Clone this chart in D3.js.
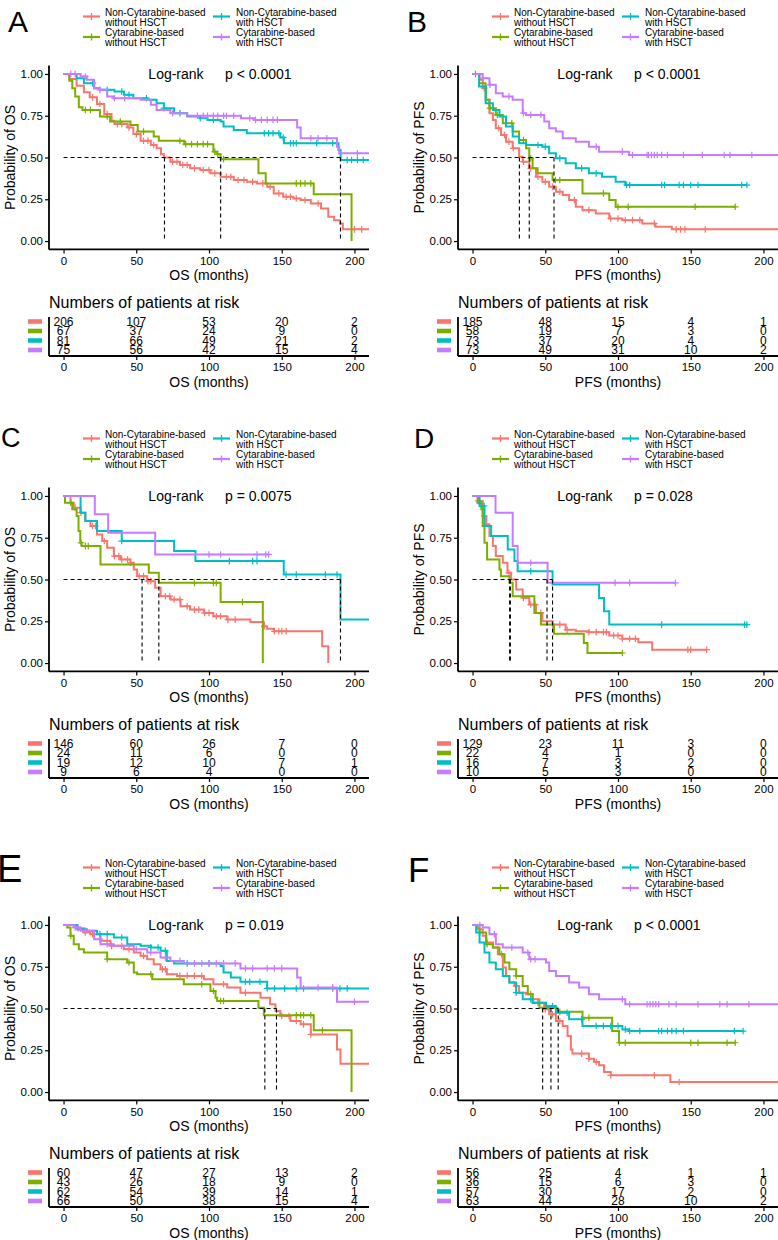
<!DOCTYPE html>
<html><head><meta charset="utf-8">
<script src="https://cdn.jsdelivr.net/npm/d3@7"></script>
<style>body{margin:0;background:#fff} svg{display:block;font-family:"Liberation Sans",Arial,Helvetica,sans-serif}</style>
</head><body><svg id="c" width="778" height="1240"></svg>
<script>
// ---------- shared labels ----------
const legendLines = [["Non-Cytarabine-based","without HSCT"],["Cytarabine-based","without HSCT"],["Non-Cytarabine-based","with HSCT"],["Cytarabine-based","with HSCT"]];
const colors = ["#F8766D","#7CAE00","#00BFC4","#C77CFF"];
const xTicks = [0,50,100,150,200];
const yTicks = [0,0.25,0.5,0.75,1];
const yTickLabels = ["0.00","0.25","0.50","0.75","1.00"];
const panelLetters = ["A","B","C","D","E","F"];
const endpoints = ["OS","PFS","OS","PFS","OS","PFS"];
const pValues = ["p < 0.0001","p < 0.0001","p = 0.0075","p = 0.028","p = 0.019","p < 0.0001"];

// ---------- Panel A (OS) ----------
const stepsA = [
 [[0,1],[4,.97],[9,.93],[14,.89],[18,.86],[23,.82],[28,.76],[33,.72],[35,.70],[44,.68],[48,.64],[53,.60],[60,.575],[64,.555],[67,.52],[69,.50],[73.5,.475],[80,.455],[87,.435],[94,.425],[101,.405],[108,.385],[117,.365],[126,.355],[133,.345],[140,.325],[144.5,.285],[151,.265],[158,.255],[163,.245],[170,.225],[177,.195],[182,.145],[186,.125],[190,.105],[192,.07]],
 [[0,1],[4,.96],[6,.915],[8,.865],[10.5,.80],[13,.785],[25,.745],[32,.715],[46,.695],[51,.655],[62,.625],[65.5,.60],[83,.58],[103,.535],[105.6,.52],[108,.49],[134,.405],[139,.345],[172,.28],[198,0]],
 [[0,1],[9,.975],[14,.945],[21,.915],[25,.905],[35,.895],[41.5,.875],[48,.855],[57.5,.845],[64,.825],[69,.795],[76,.765],[85,.745],[94,.735],[99,.725],[108,.715],[110,.685],[117,.665],[126,.645],[149,.62],[151.5,.585],[189,.545],[190.5,.485]],
 [[0,1],[11.7,.985],[16,.965],[21,.915],[25,.905],[30,.865],[34.6,.855],[53,.845],[60,.815],[64,.785],[73.5,.765],[85,.75],[122,.735],[131,.725],[160.6,.68],[163,.615],[188,.565],[189.5,.525]]
];
const endA = [210,198,210,210];
const censorA = [
 [20,25,30,37,40,45,50,55,58,62,75,78,82,85,90,96,100,104,112,115,120,124,130,137,142,148,153,156,160,166,175,200,205],
 [15,18.5,30,39,55,80,84,88,92,96,99,104,106,110,160,163,166,170],
 [20,30,40,45,57,69,80,94,103,138,141,144,148,151,156,158,160,174,185,195,198,202,206],
 [5,8,15,25,35,42,75,92,96,99,103,106,110,112,117,128,132,136,140,144,147,170,175,181,202]
];
const riskA = [[206,107,53,20,2],[67,37,24,9,0],[81,66,49,21,2],[75,56,42,15,4]];
const mediansA = [69.4,108,190.4];

// ---------- Panel B (PFS) ----------
const stepsB = [
 [[0,1],[4.8,.965],[7,.915],[9.4,.845],[11.6,.765],[14,.725],[16,.675],[19.6,.635],[23,.595],[27.6,.555],[32,.505],[34.5,.475],[39,.435],[43.6,.385],[48,.355],[52.7,.325],[57.3,.295],[62,.275],[66.4,.245],[71,.205],[75.6,.185],[84.7,.165],[94,.135],[103,.125],[116.7,.105],[125.8,.085],[137,.07]],
 [[0,1],[4.5,.945],[9,.845],[11.6,.795],[16,.755],[20.8,.705],[27.6,.655],[32,.605],[36.8,.555],[39,.495],[41.3,.435],[44.7,.405],[55,.365],[75.6,.285],[94,.245],[98.4,.205]],
 [[0,1],[4.5,.925],[9,.825],[14,.785],[18.5,.745],[23,.685],[27.6,.625],[32,.585],[36.8,.575],[48,.565],[52.7,.525],[57.3,.495],[64,.465],[71,.435],[80,.405],[89,.385],[98.4,.355],[105,.335]],
 [[0,1],[7,.975],[11.6,.935],[16,.885],[20.8,.865],[27.6,.845],[34.5,.765],[36.8,.755],[49.3,.715],[52.7,.675],[57.3,.655],[62,.615],[71,.595],[80,.565],[87,.535],[107.5,.515]]
];
const endB = [210,180.6,188.6,210];
const censorB = [
 [8,18,22,25,28,35,40,45,50,55,60,70,80,95,100,105,110,115,125,140,143,146,160],
 [2,12,17,27,35,40,57,60,90,100,107,153,180.6],
 [45,50,60,75,85,106,108,130,132,142,145,150,155,185,188.6],
 [7,12,25,35,40,47,85,103,110,120,121,123,125,127,130,134,145,158,173,177,192]
];
const riskB = [[185,48,15,4,1],[58,19,7,3,0],[73,37,20,4,0],[73,49,31,10,2]];
const mediansB = [32.2,39,56];

// ---------- Panel C (OS) ----------
const stepsC = [
 [[0,1],[4.8,.96],[7,.93],[11.7,.90],[15,.85],[18.5,.82],[23,.77],[26.6,.73],[30,.69],[34.6,.64],[39,.62],[46,.60],[48.3,.56],[50.6,.52],[57.5,.49],[63,.45],[66.7,.40],[73.5,.38],[80.4,.34],[87,.32],[96.5,.30],[103,.28],[112.5,.26],[128.5,.245],[137.7,.22],[140,.205],[144.5,.19],[177.8,.10],[182,0]],
 [[0,1],[1,.96],[6,.92],[9,.88],[10.3,.79],[11.5,.72],[12.5,.70],[25.4,.59],[58.6,.54],[65.5,.48],[108,.365],[137,0]],
 [[0,1],[11.7,.90],[15,.85],[23,.79],[40,.73],[76,.67],[90.7,.61],[151.4,.53],[190.4,.26]],
 [[0,1],[21.5,.89],[30.7,.78],[63,.65]]
];
const endC = [182,137,210,141];
const censorC = [
 [8,12,20,22,28,35,38,40,44,46,52,55,58,60,70,73,76,80,85,90,93,97,100,105,108,113,118,138,145,148,150,153],
 [5,12,15,17,90,103,105,123],
 [40,114,130,133,153,160,180,188],
 [100,108,133,139,141]
];
const riskC = [[146,60,26,7,0],[24,11,6,0,0],[19,12,10,7,1],[9,6,4,0,0]];
const mediansC = [54,65.5,190.4];

// ---------- Panel D (PFS) ----------
const stepsD = [
 [[0,1],[3.7,.97],[7,.88],[9.4,.83],[11.6,.76],[14,.70],[16,.64],[20.8,.60],[24,.54],[26.5,.50],[30,.44],[34.5,.39],[39,.35],[43.6,.30],[48,.25],[55,.23],[64,.20],[71,.19],[80,.185],[94,.165],[103,.145],[114,.125],[123.5,.08]],
 [[0,1],[3.5,.96],[6,.92],[7,.82],[8.2,.72],[10,.62],[18.5,.56],[19.5,.52],[25.3,.48],[27.6,.40],[42.5,.30],[47,.23],[56,.175],[76.5,.12],[79,.06]],
 [[0,1],[4.8,.94],[8.2,.82],[12.8,.76],[24.2,.68],[28.8,.61],[31,.55],[55,.47],[87,.39],[90.4,.31],[94,.23]],
 [[0,1],[15.8,.90],[27.6,.70],[31,.60],[51.6,.48]]
];
const endD = [161,103,188.6,139.5];
const censorD = [
 [4,8,25,35,40,43,47,55,60,65,80,85,90,92,97,100,103,108,112,148,150,161],
 [5,103],
 [8,40,130,187,188.6],
 [40,98,108,139.5]
];
const riskD = [[129,23,11,3,0],[22,4,1,0,0],[16,7,3,2,0],[10,5,3,0,0]];
const mediansD = [25.5,26,51.2,55];

// ---------- Panel E (OS) ----------
const stepsE = [
 [[0,1],[9.4,.98],[14,.955],[18.5,.945],[25.4,.905],[32.3,.875],[41.5,.855],[48.3,.835],[53,.815],[57.5,.795],[62,.765],[66.7,.735],[71,.705],[78,.695],[96.5,.675],[103,.645],[112.5,.625],[121.6,.595],[135.4,.565],[142,.525],[145.7,.485],[149,.455],[156,.425],[163,.405],[170,.345],[188,.255],[190.4,.17]],
 [[0,1],[2.5,.985],[4.8,.935],[7,.885],[10.5,.855],[14,.835],[30,.795],[43.8,.775],[48.3,.715],[50.6,.705],[61,.675],[82.7,.645],[101,.605],[104.5,.565],[105.6,.545],[134,.505],[137.7,.46],[172,.37],[198,0]],
 [[0,1],[9.4,.975],[16,.965],[23,.945],[34.6,.925],[43.8,.885],[53,.875],[60,.865],[66.7,.845],[71,.785],[76,.77],[108,.755],[110,.715],[115,.685],[121.6,.66],[140,.62]],
 [[0,1],[7,.985],[11.7,.965],[21,.915],[25.4,.885],[34.6,.875],[48.3,.855],[57.5,.835],[66.7,.805],[73.5,.785],[82.7,.77],[121.6,.74],[160.6,.685],[163,.625],[188,.54]]
];
const endE = [210,198,210,210];
const censorE = [
 [10,15,20,30,33,45,55,68,70,80,85,90,95,110,125,150,155,160,165,170],
 [5,30,45,60,95,103,108,110,160,163,165,170,178],
 [25,30,40,60,65,70,85,100,125,128,135,140,145,152,160,165,185,190,195],
 [8,10,15,25,30,40,50,60,70,80,90,95,100,105,110,118,125,130,140,145,150,175,185,200]
];
const riskE = [[60,47,27,13,2],[43,26,18,9,0],[62,54,39,14,1],[66,50,38,15,4]];
const mediansE = [138.4,146.4];

// ---------- Panel F (PFS) ----------
const stepsF = [
 [[0,1],[3.5,.975],[7,.935],[9.4,.895],[14,.865],[17.4,.825],[20.8,.745],[23,.695],[25.3,.655],[28.8,.635],[32,.595],[36.8,.585],[41.3,.555],[46,.535],[49.3,.495],[52.7,.465],[57.3,.425],[62,.395],[65.3,.335],[67.6,.255],[68.7,.23],[80,.20],[83.5,.18],[87,.16],[90.4,.12],[95,.10],[136,.06]],
 [[0,1],[4.8,.955],[9.4,.885],[14,.865],[18.5,.825],[22,.775],[25.3,.735],[30,.695],[34.5,.635],[38,.585],[41.3,.535],[46,.505],[58.4,.48],[75.6,.445],[96,.365],[100.7,.295]],
 [[0,1],[2.5,.955],[4.8,.895],[8.2,.835],[11.6,.775],[16,.735],[20.8,.695],[25.3,.655],[30,.595],[34.5,.555],[41.3,.535],[50.5,.515],[57.3,.475],[66.4,.435],[75.6,.395],[103,.375],[107.5,.365]],
 [[0,1],[7,.985],[11.6,.945],[16,.885],[20.8,.865],[34.5,.835],[39,.795],[50.5,.775],[52.7,.725],[57.3,.695],[66.4,.655],[73.3,.625],[80,.585],[87,.555],[105,.525]]
];
const endF = [210,180.6,186,210];
const censorF = [
 [10,20,30,40,50,55,60,75,80,85,95,125,142],
 [5,10,30,45,60,80,101,105,150,155,175,180.6],
 [30,40,55,65,75,85,90,95,100,105,108,115,128,130,134,137,140,145,180,186],
 [5,15,27,38,40,43,103,108,120,122,124,126,128,135,140,155,170,175,190]
];
const riskF = [[56,25,4,1,1],[36,15,6,3,0],[57,30,17,2,0],[63,44,28,10,2]];
const mediansF = [48.2,53.9,58.9];

// letter placement [x, baseline, size]
const letterPos = [[8,32,30],[407,32,30],[1,447,27],[414,448,28],[-3,882,38],[408,882,35]];

const panels = [
 {steps:stepsA,end:endA,censor:censorA,risk:riskA,med:mediansA},
 {steps:stepsB,end:endB,censor:censorB,risk:riskB,med:mediansB},
 {steps:stepsC,end:endC,censor:censorC,risk:riskC,med:mediansC},
 {steps:stepsD,end:endD,censor:censorD,risk:riskD,med:mediansD},
 {steps:stepsE,end:endE,censor:censorE,risk:riskE,med:mediansE},
 {steps:stepsF,end:endF,censor:censorF,risk:riskF,med:mediansF}
];

const svg = d3.select("#c");
const rowOff = [0,422,851];
const colOff = [0,409];

function survAt(steps,t){let s=steps[0][1];for(const p of steps){if(p[0]<=t)s=p[1];else break;}return s;}

panels.forEach((P,i)=>{
  const cx = colOff[i%2], ry = rowOff[Math.floor(i/2)];
  const g = svg.append("g").attr("transform",`translate(${cx},${ry})`);
  const x = d3.scaleLinear().domain([-10,210]).range([49,369]);
  const y = d3.scaleLinear().domain([-0.05,1.05]).range([249.4,65.6]);

  // letter
  const lp = letterPos[i];
  svg.append("text").attr("x",lp[0]).attr("y",lp[1]).attr("font-size",lp[2]).text(panelLetters[i]);

  // legend
  const legX = [[83,100,105],[213,230,236]];
  const legY = [[12,22,16.5],[32,42,37]];
  legendLines.forEach((L,k)=>{
    const c = Math.floor(k/2), r = k%2;
    const [x0,x1,tx] = legX[c]; const [t1,t2,sy] = legY[r];
    g.append("line").attr("x1",x0).attr("x2",x1).attr("y1",sy).attr("y2",sy).attr("stroke",colors[k]).attr("stroke-width",2.2);
    g.append("line").attr("x1",(x0+x1)/2).attr("x2",(x0+x1)/2).attr("y1",sy-3.5).attr("y2",sy+3.5).attr("stroke",colors[k]).attr("stroke-width",1.3);
    g.append("text").attr("x",tx).attr("y",t1+3.5).attr("font-size",10).text(L[0]);
    g.append("text").attr("x",tx).attr("y",t2+3.5).attr("font-size",10).text(L[1]);
  });

  // axes
  const ax = g.append("g").attr("transform","translate(0,249.4)")
    .call(d3.axisBottom(x).tickValues(xTicks).tickSize(4).tickPadding(3));
  const ay = g.append("g").attr("transform","translate(49,0)")
    .call(d3.axisLeft(y).tickValues(yTicks).tickFormat((d,j)=>yTickLabels[j]).tickSize(4).tickPadding(2));
  [ax,ay].forEach(a=>{
    a.select(".domain").attr("stroke","#000").attr("stroke-width",1.8);
    a.selectAll(".tick line").attr("stroke","#000").attr("stroke-width",1.2);
    a.selectAll("text").attr("font-size",11.5).attr("fill","#000").attr("font-family","inherit");
  });
  ax.select(".domain").attr("d",`M49,0H369`);
  ay.select(".domain").attr("d",`M0,65.6V249.4`);

  g.append("text").attr("x",209).attr("y",280).attr("text-anchor","middle").attr("font-size",14).text(endpoints[i]+" (months)");
  g.append("text").attr("transform",`translate(15,157.5) rotate(-90)`).attr("text-anchor","middle").attr("font-size",14).text("Probability of "+endpoints[i]);

  // curves
  const line = d3.line().x(d=>x(d[0])).y(d=>y(d[1])).curve(d3.curveStepAfter);
  P.steps.forEach((st,k)=>{
    const pts = st.concat([[P.end[k], st[st.length-1][1]]]);
    g.append("path").attr("d",line(pts)).attr("fill","none").attr("stroke",colors[k]).attr("stroke-width",2);
    P.censor[k].forEach(t=>{
      const s = survAt(st,t), px=x(t), py=y(s);
      g.append("path").attr("d",`M${px-3.3},${py}H${px+3.3}M${px},${py-3.3}V${py+3.3}`).attr("stroke",colors[k]).attr("stroke-width",1.2);
    });
  });

  // median lines
  const mmax = d3.max(P.med);
  g.append("line").attr("x1",x(0)).attr("x2",x(mmax)).attr("y1",y(0.5)).attr("y2",y(0.5))
    .attr("stroke","#000").attr("stroke-width",1.1).attr("stroke-dasharray","4,3");
  P.med.forEach(m=>{
    g.append("line").attr("x1",x(m)).attr("x2",x(m)).attr("y1",y(0.5)).attr("y2",y(0))
      .attr("stroke","#000").attr("stroke-width",1.1).attr("stroke-dasharray","4,3");
  });

  // log-rank
  g.append("text").attr("x",x(58.3)).attr("y",y(1)+5).attr("font-size",14).text("Log-rank");
  g.append("text").attr("x",x(111)).attr("y",y(1)+5).attr("font-size",14).text(pValues[i]);

  // risk table
  g.append("text").attr("x",49).attr("y",308).attr("font-size",16).text("Numbers of patients at risk");
  const rowY = [321.5,331,340.5,350];
  P.risk.forEach((row,k)=>{
    g.append("rect").attr("x",28).attr("y",rowY[k]-2.3).attr("width",14).attr("height",4.6).attr("fill",colors[k]);
    row.forEach((v,j)=>{
      g.append("text").attr("x",x(xTicks[j])).attr("y",rowY[k]+4.3).attr("text-anchor","middle").attr("font-size",12).text(v);
    });
  });
  const rx = g.append("g").attr("transform","translate(0,356)")
    .call(d3.axisBottom(x).tickValues(xTicks).tickSize(4).tickPadding(3));
  rx.select(".domain").attr("d","M49,0H369").attr("stroke","#000").attr("stroke-width",1.8);
  rx.selectAll(".tick line").attr("stroke","#000").attr("stroke-width",1.2);
  rx.selectAll("text").attr("font-size",11.5).attr("fill","#000").attr("font-family","inherit");
  g.append("line").attr("x1",49).attr("x2",49).attr("y1",317).attr("y2",356).attr("stroke","#000").attr("stroke-width",1.8);
  g.append("text").attr("x",209).attr("y",387).attr("text-anchor","middle").attr("font-size",14).text(endpoints[i]+" (months)");
});
</script></body></html>
